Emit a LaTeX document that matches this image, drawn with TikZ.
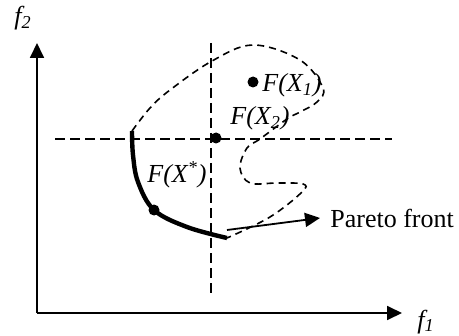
\documentclass[tikz,border=0pt]{standalone}
\usepackage{fontspec}
\setmainfont{Liberation Serif}
\usetikzlibrary{arrows.meta, positioning}

\begin{document}
\begin{tikzpicture}[
    x=0.5pt, y=-0.5pt,
    font=\fontsize{13}{15}\selectfont,
    >={Triangle[length=7.5pt, width=7pt]},
    % Style des axes
    axis/.style={->, line width=0.9pt},
    % Lignes de référence
    refline/.style={line width=0.8pt, dash pattern=on 5pt off 2.5pt},
    % Bord de la région
    region/.style={line width=0.8pt, dash pattern=on 3.5pt off 2.5pt},
    front/.style={line width=2.2pt},
    dot/.style={circle, fill=black, inner sep=0pt, minimum size=5.5pt},
    lbl/.style={font=\fontsize{13}{15}\selectfont\itshape, inner sep=0pt, anchor=base west}
]
    \useasboundingbox (0,0) rectangle (459,336);

    % --- AXES ---
    \coordinate (origin) at (37,313);
    \coordinate (ytip) at (37,43);
    \coordinate (xtip) at (402,313);
    \draw[axis] (origin) -- (ytip);
    \draw[axis] (origin) -- (xtip);
    \node[lbl] (f2) at (14,25) {f\textsubscript{2}};
    \node[lbl] (f1) at (417,328) {f\textsubscript{1}};

    % --- LIGNES DE RÉFÉRENCE ---
    \draw[refline] (55,139) -- (392,139);
    \draw[refline] (211,43) -- (211,295);

    % --- RÉGION ---
    \draw[region] plot[smooth, tension=0.6] coordinates {
        (132,131) (150,108) (170,90) (212,61) (253,45) (300,60) (323,88)
        (317,102) (300,112) (287,119) (260,139) (247,148) (240,168)
        (250,183) (277,183) (303,184) (302,192) (270,217) (227,238)};

    % Front de Pareto
    \draw[front] plot[smooth, tension=0.6] coordinates {
        (132,131) (133,155) (138,182) (154,210) (187,227) (227,238)};

    % --- POINTS ---
    \node[dot] (x1) at (253,82) {};
    \node[dot] (x2) at (216,138) {};
    \node[dot] (xstar) at (154,210) {};
    \node[lbl] (lx1) at (262,92) {F(X\textsubscript{1})};
    \node[lbl] (lx2) at (230,125) {F(X\textsubscript{2})};
    \node[lbl] (lxstar) at (147,182) {F(X\textsuperscript{*})};

    % --- LÉGENDE ---
    \coordinate (parfrom) at (227,230);
    \node[anchor=base west, inner sep=5pt] (pareto) at (320,227) {Pareto front};
    \draw[->, line width=0.9pt] (parfrom) -- (pareto.west);

\end{tikzpicture}
\end{document}
